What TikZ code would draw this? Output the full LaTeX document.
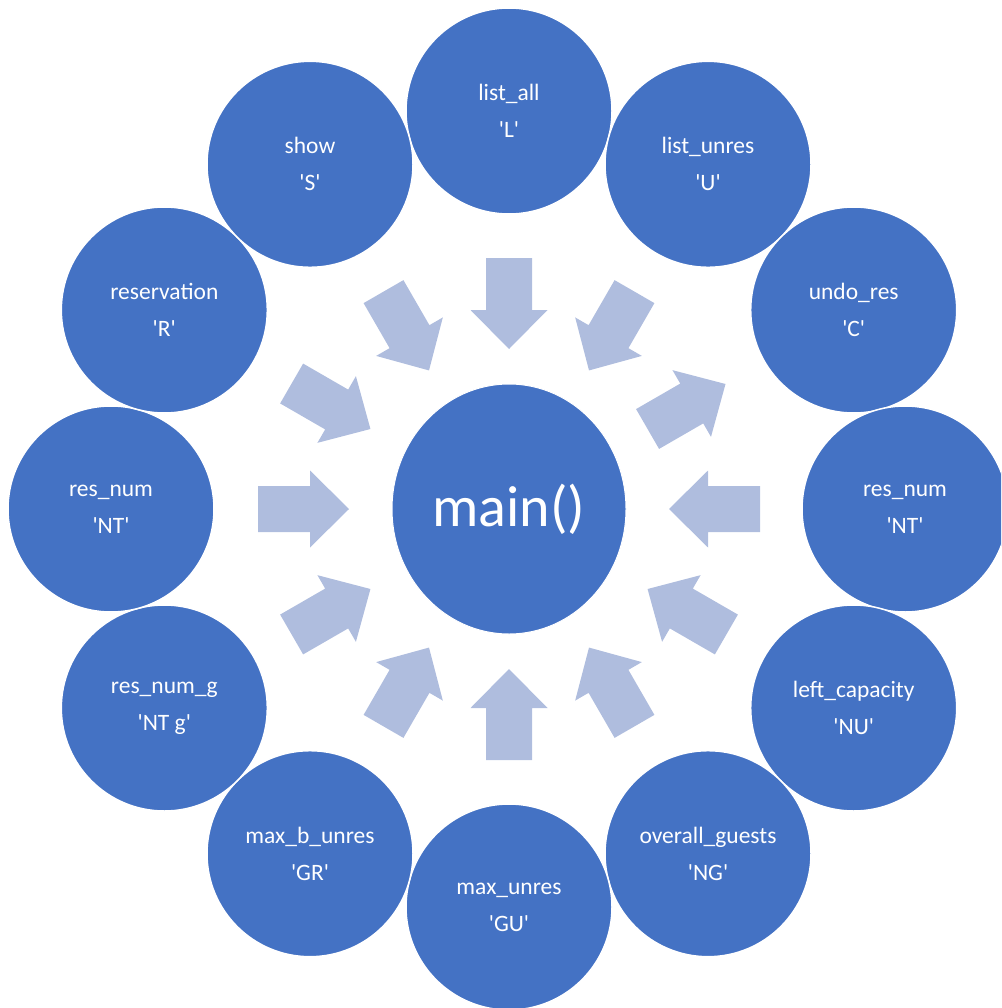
\documentclass[tikz,border=0pt]{standalone}
\usepackage{fontspec}
\setmainfont{Carlito}
\usetikzlibrary{shapes.geometric,calc}
\definecolor{circblue}{HTML}{4472C4}
\definecolor{arrowblue}{HTML}{AFBDDE}
\tikzset{
  outer/.style={circle, fill=circblue, draw=white, line width=1.5pt, minimum size=206pt, inner sep=0pt,
    text=white, align=center, font=\fontsize{23.5}{37}\selectfont},
  centre/.style={ellipse, fill=circblue, draw=white, line width=1pt, minimum width=234pt, minimum height=250pt,
    inner sep=0pt, text=white, font=\fontsize{58}{62}\selectfont},
  blockarrow/.style={fill=arrowblue}
}
\begin{document}
\begin{tikzpicture}[x=1pt,y=-1pt]
\useasboundingbox (0,0) rectangle (1001,1008);
\clip (0,0) rectangle (1001,1008);
\coordinate (c) at (509,509);
% outer circles
\node[outer] (n0)  at ($(c)+(0,-398)$)        {list\_all\\\textquotesingle L\textquotesingle};
\node[outer] (n1)  at ($(c)+(199,-344.7)$)    {list\_unres\\\textquotesingle U\textquotesingle};
\node[outer] (n2)  at ($(c)+(344.7,-199)$)    {undo\_res\\\textquotesingle C\textquotesingle};
\node[outer] (n3)  at ($(c)+(396,0)$)         {res\_num\\\textquotesingle NT\textquotesingle};
\node[outer] (n4)  at ($(c)+(344.7,199)$)     {left\_capacity\\\textquotesingle NU\textquotesingle};
\node[outer] (n5)  at ($(c)+(199,344.7)$)     {overall\_guests\\\textquotesingle NG\textquotesingle};
\node[outer] (n6)  at ($(c)+(0,398)$)         {max\_unres\\\textquotesingle GU\textquotesingle};
\node[outer] (n7)  at ($(c)+(-199,344.7)$)    {max\_b\_unres\\\textquotesingle GR\textquotesingle};
\node[outer] (n8)  at ($(c)+(-344.7,199)$)    {res\_num\_g\\\textquotesingle NT g\textquotesingle};
\node[outer] (n9)  at ($(c)+(-398,0)$)        {res\_num\\\textquotesingle NT\textquotesingle};
\node[outer] (n10) at ($(c)+(-344.7,-199)$)   {reservation\\\textquotesingle R\textquotesingle};
\node[outer] (n11) at ($(c)+(-199,-344.7)$)   {show\\\textquotesingle S\textquotesingle};
% centre
\node[centre] (main) at (c) {main()};
% block arrows pointing inward
\foreach \a in {0,60,90,...,330}{
  \begin{scope}[shift={(c)}, rotate=\a]
    \fill[blockarrow] (251,-23) -- (199,-23) -- (199,-38.5) -- (160,0) -- (199,38.5) -- (199,23) -- (251,23) -- cycle;
  \end{scope}
}
% the one arrow pointing outward, towards undo_res
\begin{scope}[shift={(c)}, rotate=30]
  \fill[blockarrow] (160,-23) -- (211,-23) -- (211,-38.5) -- (250,0) -- (211,38.5) -- (211,23) -- (160,23) -- cycle;
\end{scope}
\end{tikzpicture}
\end{document}
